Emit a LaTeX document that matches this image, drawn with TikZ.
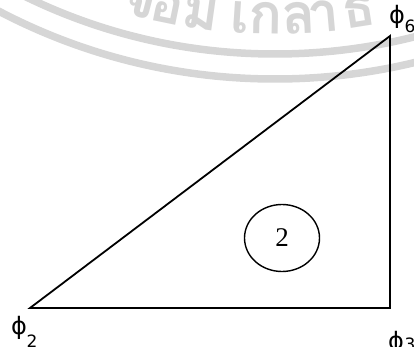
\documentclass[tikz,border=0pt]{standalone}
\usepackage{fontspec}
\setmainfont{Liberation Serif}
\newfontfamily\phifont{DejaVu Sans}
\newfontfamily\subfont{DejaVu Sans}
\newfontfamily\thaifont[Script=Thai]{Loma}
\usetikzlibrary{shapes.geometric}
\definecolor{wmgray}{RGB}{214,214,214}
\tikzset{
  edge/.style={line width=1.8pt, line join=miter},
  phil/.style={inner sep=0pt, font=\phifont\fontsize{24}{24}\selectfont},
  subl/.style={inner sep=0pt, font=\subfont\fontsize{17}{17}\selectfont},
  elem/.style={draw, ellipse, line width=1.4pt, minimum width=75pt, minimum height=67pt, inner sep=0pt, font=\fontsize{27}{27}\selectfont},
  wm/.style={inner sep=0pt, text=wmgray, font=\thaifont\bfseries\fontsize{56}{56}\selectfont},
  wmarc/.style={draw=wmgray, line width=7.5pt}
}
\begin{document}
\begin{tikzpicture}[x=1pt,y=-1pt]
\useasboundingbox (0,0) rectangle (414,347);
% watermark
\begin{scope}
\clip (0,0) rectangle (414,347);
\coordinate (wc) at (275,-516);
\draw[wmarc] (wc) circle[radius=570pt];
\draw[wmarc] (wc) circle[radius=595pt];
\foreach \ch/\a [count=\i] in {จ/-14.6, อ/-11.6, ม/-8.0, เ/-3.8, ก/-1.0, ล้/2.6, า/5.2, ธ/9.0}
  \node[wm, anchor=base, rotate=\a] (w\i) at ({275+550*sin(\a)},{-516+550*cos(\a)}) {\ch};
\end{scope}
% triangle
\coordinate (A) at (30,308);
\coordinate (B) at (390,308);
\coordinate (C) at (390,36);
\draw[edge] (A) -- (B) -- (C) -- cycle;
% element number
\node[elem] (e2) at (282,238) {2};
% labels
\node[phil] (p2) at (19,328) {ϕ};
\node[subl] (s2) at (32,341) {2};
\node[phil] (p3) at (396,343) {ϕ};
\node[subl] (s3) at (410,344) {3};
\node[phil] (p6) at (397,17) {ϕ};
\node[subl] (s6) at (410,26) {6};
\end{tikzpicture}
\end{document}
